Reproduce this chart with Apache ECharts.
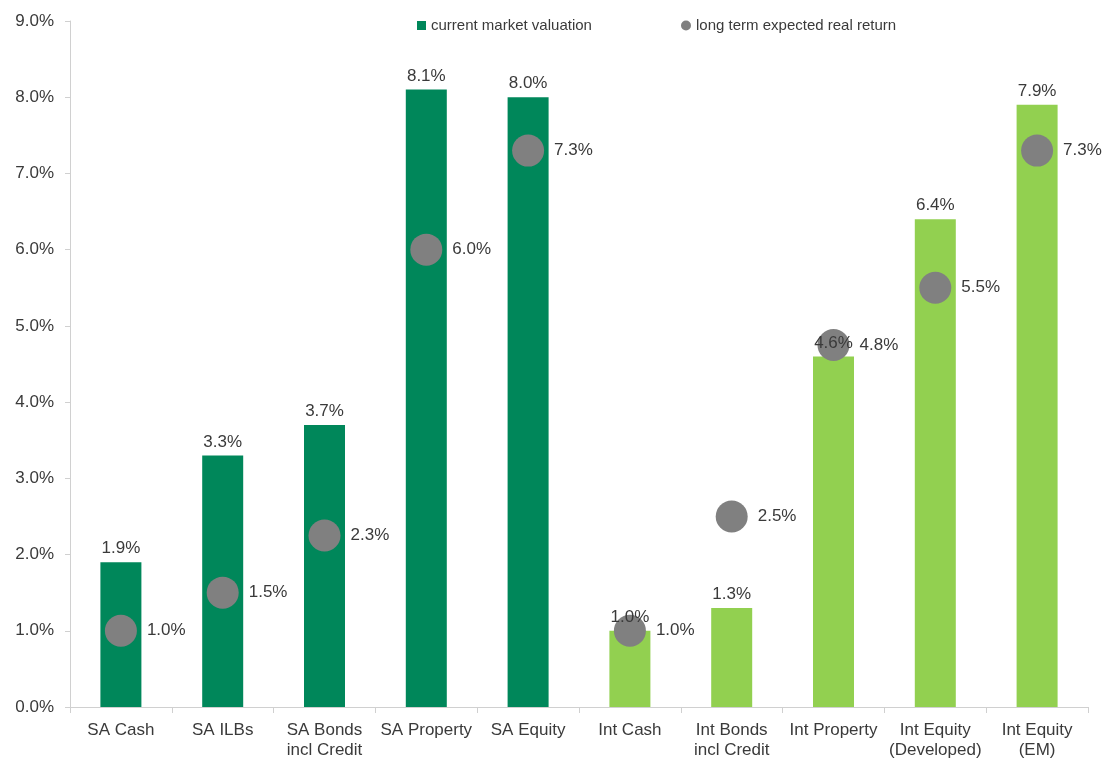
<!DOCTYPE html>
<html><head><meta charset="utf-8">
<script src="https://cdn.jsdelivr.net/npm/echarts@6/dist/echarts.min.js"></script>
<style>html,body{margin:0;padding:0;background:#fff}#c{width:1113px;height:760px}</style>
</head><body><div id="c"></div>
<script>
const categories = ['SA Cash','SA ILBs','SA Bonds\nincl Credit','SA Property','SA Equity','Int Cash','Int Bonds\nincl Credit','Int Property','Int Equity\n(Developed)','Int Equity\n(EM)'];
const marketValuation = [1.9, 3.3, 3.7, 8.1, 8.0, 1.0, 1.3, 4.6, 6.4, 7.9];
const expectedReturn = [1.0, 1.5, 2.25, 6.0, 7.3, 1.0, 2.5, 4.75, 5.5, 7.3];
const isInternational = [false,false,false,false,false,true,true,true,true,true];
const yTicks = [0,1,2,3,4,5,6,7,8,9];

const DARK = '#00875A', LIGHT = '#92D050', GREY = '#808080';
const FONT = 'Liberation Sans, Arial, sans-serif';
const TXT = '#3a3a3a';
const FS = 17;
const fmt = v => v.toFixed(1) + '%';

const barData = marketValuation.map((v,i)=>({value:v,itemStyle:{color:isInternational[i]?LIGHT:DARK}}));

const chart = echarts.init(document.getElementById('c'));
chart.setOption({
  animation:false,
  textStyle:{fontFamily:FONT},
  grid:{left:70,right:25,top:21,bottom:52},
  legend:[
    {data:['current market valuation'],left:412,top:13,itemWidth:9,itemHeight:9,icon:'rect',
     textStyle:{fontSize:15,color:TXT,fontFamily:FONT},itemGap:5},
    {data:['long term expected real return'],left:676,top:13,itemWidth:10,itemHeight:10,icon:'circle',
     textStyle:{fontSize:15,color:TXT,fontFamily:FONT}}
  ],
  xAxis:{type:'category',data:categories,
    axisLine:{lineStyle:{color:'#d0d0d0',width:1}},
    axisTick:{show:true,length:6,alignWithLabel:false,lineStyle:{color:'#d0d0d0'}},
    axisLabel:{fontSize:FS,color:TXT,margin:13,lineHeight:20,interval:0,fontFamily:FONT}},
  yAxis:{type:'value',min:0,max:9,interval:1,
    axisLine:{show:true,lineStyle:{color:'#d0d0d0'}},
    axisTick:{show:true,length:5,lineStyle:{color:'#d0d0d0'}},
    splitLine:{show:false},
    axisLabel:{fontSize:FS,color:TXT,margin:16,formatter:v=>yTicks.includes(v)?v.toFixed(1)+'%':'',fontFamily:FONT}},
  series:[
    {name:'current market valuation',type:'bar',data:barData,barWidth:41,z:2,
     itemStyle:{color:DARK}},
    {name:'long term expected real return',type:'scatter',data:expectedReturn,symbolSize:32,z:3,
     itemStyle:{color:GREY,opacity:1},
     label:{show:true,position:'right',distance:10,fontSize:FS,color:TXT,formatter:p=>fmt(p.value),fontFamily:FONT}},
    {name:'labels',type:'bar',data:marketValuation,barWidth:41,barGap:'-100%',z:4,
     itemStyle:{color:'rgba(0,0,0,0)'},silent:true,
     label:{show:true,position:'top',distance:5,fontSize:FS,color:TXT,formatter:p=>fmt(p.value),fontFamily:FONT}}
  ]
});
</script></body></html>
